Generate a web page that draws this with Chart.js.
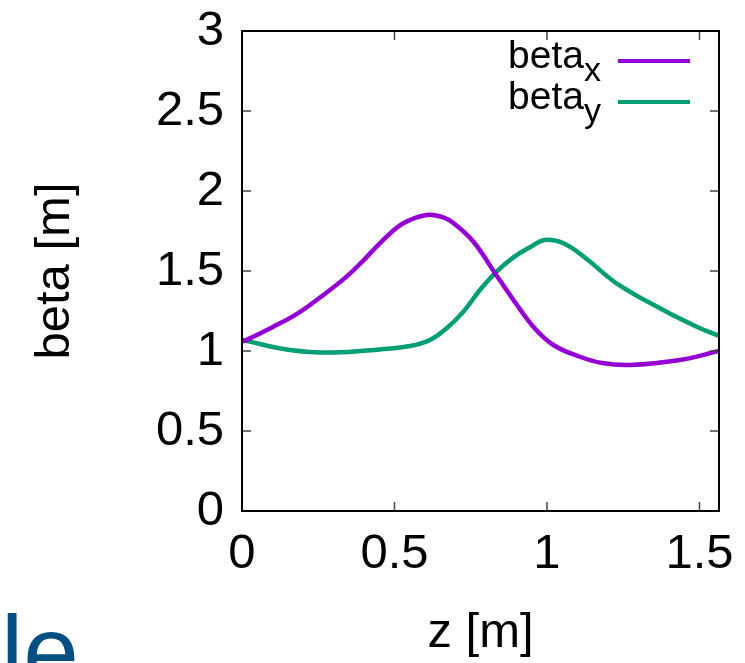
<!DOCTYPE html>
<html>
<head>
<meta charset="utf-8">
<script src="https://cdn.jsdelivr.net/npm/chart.js@4"></script>
<style>
  html, body { margin: 0; padding: 0; background: #fff; }
  #wrap { width: 745px; height: 663px; position: relative; }
</style>
</head>
<body>
<div id="wrap"><canvas id="beta-chart"></canvas></div>
<script>
// beta functions along z
var zX = [0.0, 0.01, 0.103, 0.179, 0.245, 0.343, 0.40, 0.452, 0.518, 0.573, 0.616, 0.66, 0.693, 0.759, 0.830, 0.890, 0.955, 1.021, 1.108, 1.18, 1.272, 1.436, 1.564];
var betaX = [1.06, 1.065, 1.152, 1.23, 1.319, 1.465, 1.57, 1.673, 1.785, 1.835, 1.852, 1.835, 1.80, 1.683, 1.485, 1.319, 1.152, 1.0375, 0.964, 0.925, 0.9125, 0.944, 1.0];
var zY = [0.0, 0.01, 0.157, 0.299, 0.452, 0.551, 0.616, 0.671, 0.726, 0.780, 0.835, 0.890, 0.944, 0.993, 1.054, 1.130, 1.228, 1.381, 1.491, 1.564];
var betaY = [1.07, 1.065, 1.006, 0.99, 1.01, 1.031, 1.069, 1.142, 1.246, 1.381, 1.496, 1.585, 1.648, 1.694, 1.673, 1.575, 1.423, 1.256, 1.152, 1.094];
var seriesLabels = ['beta_x', 'beta_y'];
var seriesColors = ['#9400d3', '#009e73'];
var xTicks = [0, 0.5, 1, 1.5];
var yTicks = [0, 0.5, 1, 1.5, 2, 2.5, 3];

(function () {
    var FONT = '"Liberation Sans", Arial, Helvetica, sans-serif';

    function pts(xs, ys) {
        var out = [];
        for (var i = 0; i < xs.length; i++) {
            out.push({ x: xs[i], y: ys[i] });
        }
        return out;
    }

    // gnuplot-style box with inward ticks on all four sides
    var boxPlugin = {
        id: 'box',
        afterDatasetsDraw: function (chart) {
            var ctx = chart.ctx;
            var a = chart.chartArea;
            var xs = chart.scales.x, ys = chart.scales.y;
            ctx.save();
            ctx.strokeStyle = '#444';
            ctx.lineWidth = 1.5;
            xTicks.forEach(function (v) {
                var px = xs.getPixelForValue(v);
                ctx.beginPath();
                ctx.moveTo(px, a.bottom); ctx.lineTo(px, a.bottom - 9);
                ctx.moveTo(px, a.top); ctx.lineTo(px, a.top + 9);
                ctx.stroke();
            });
            yTicks.forEach(function (v) {
                var py = ys.getPixelForValue(v);
                ctx.beginPath();
                ctx.moveTo(a.left, py); ctx.lineTo(a.left + 9, py);
                ctx.moveTo(a.right, py); ctx.lineTo(a.right - 9, py);
                ctx.stroke();
            });
            ctx.strokeStyle = '#000';
            ctx.lineWidth = 2;
            ctx.strokeRect(a.left, a.top, a.right - a.left, a.bottom - a.top);
            ctx.restore();
        },
        afterDraw: function (chart) {
            var ctx = chart.ctx;
            ctx.save();
            // legend with subscripts, top right inside the box
            chart.data.datasets.forEach(function (ds, i) {
                var parts = ds.label.split('_');
                var ly = 61 + i * 41;
                ctx.strokeStyle = ds.borderColor;
                ctx.lineWidth = 4;
                ctx.beginPath();
                ctx.moveTo(618, ly);
                ctx.lineTo(690, ly);
                ctx.stroke();
                ctx.fillStyle = '#000';
                ctx.textBaseline = 'alphabetic';
                ctx.textAlign = 'right';
                ctx.font = '34px ' + FONT;
                var subW = ctx.measureText(parts[1]).width;
                ctx.fillText(parts[1], 601, ly + 20);
                ctx.font = '39px ' + FONT;
                ctx.fillText(parts[0], 601 - subW, ly + 7);
            });
            // piece of slide text peeking in at bottom-left
            ctx.fillStyle = '#064f82';
            ctx.textAlign = 'left';
            ctx.font = '100px ' + FONT;
            ctx.fillText('le', 1, 686);
            ctx.restore();
        },
    };

    function plain(v) {
        return String(Number(v));
    }

    new Chart(document.getElementById('beta-chart').getContext('2d'), {
        type: 'scatter',
        data: {
            datasets: [
                {
                    label: seriesLabels[0],
                    data: pts(zX, betaX),
                    borderColor: seriesColors[0],
                    backgroundColor: seriesColors[0],
                },
                {
                    label: seriesLabels[1],
                    data: pts(zY, betaY),
                    borderColor: seriesColors[1],
                    backgroundColor: seriesColors[1],
                },
            ].map(function (d) {
                d.showLine = true;
                d.borderWidth = 4.5;
                d.pointRadius = 0;
                d.tension = 0.4;
                return d;
            }),
        },
        options: {
            responsive: true,
            maintainAspectRatio: false,
            animation: false,
            layout: { padding: { top: 31, right: 26, left: 0, bottom: 0 } },
            plugins: {
                legend: { display: false },
                tooltip: { enabled: false },
            },
            scales: {
                x: {
                    type: 'linear',
                    min: 0,
                    max: 1.564,
                    grid: { display: false, drawTicks: false },
                    border: { display: false },
                    afterFit: function (s) {
                        s.height = 152;
                        s.paddingLeft = 0;
                        s.paddingRight = 0;
                    },
                    afterBuildTicks: function (s) {
                        s.ticks = xTicks.map(function (v) { return { value: v }; });
                    },
                    ticks: {
                        padding: 14,
                        color: '#000',
                        maxRotation: 0,
                        callback: plain,
                        font: { size: 49, family: FONT },
                    },
                    title: {
                        display: true,
                        text: 'z [m]',
                        color: '#000',
                        padding: { top: 0, bottom: 0 },
                        font: { size: 49, family: FONT },
                    },
                },
                y: {
                    min: 0,
                    max: 3,
                    grid: { display: false, drawTicks: false },
                    border: { display: false },
                    afterFit: function (s) {
                        s.width = 242;
                        s.paddingTop = 0;
                        s.paddingBottom = 0;
                    },
                    afterBuildTicks: function (s) {
                        s.ticks = yTicks.map(function (v) { return { value: v }; });
                    },
                    ticks: {
                        padding: 18,
                        color: '#000',
                        callback: plain,
                        font: { size: 49, family: FONT },
                    },
                    title: {
                        display: true,
                        text: 'beta [m]',
                        color: '#000',
                        padding: { top: 26, bottom: 0 },
                        font: { size: 49, family: FONT },
                    },
                },
            },
        },
        plugins: [boxPlugin],
    });
})();
</script>
</body>
</html>
